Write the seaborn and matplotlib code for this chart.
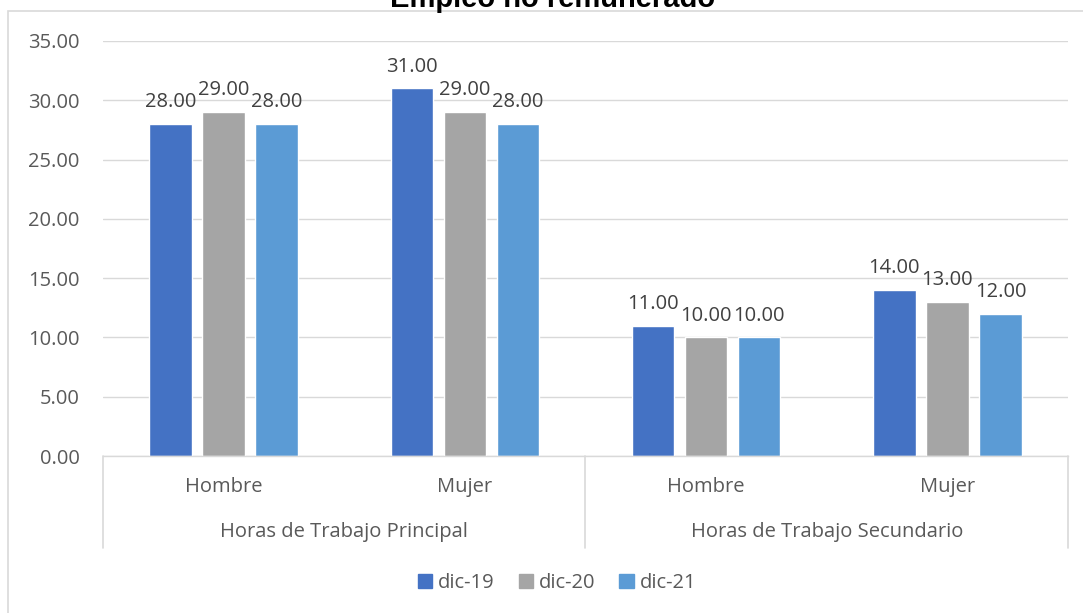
import matplotlib
matplotlib.use("Agg")
import matplotlib.pyplot as plt
import pandas as pd
import seaborn as sns
from matplotlib.lines import Line2D
from matplotlib.patches import Rectangle

# datos del grafico
grupos = ["Horas de Trabajo Principal", "Horas de Trabajo Secundario"]
sexos = ["Hombre", "Mujer"]
series = ["dic-19", "dic-20", "dic-21"]
dic19 = [28.0, 31.0, 11.0, 14.0]
dic20 = [29.0, 29.0, 10.0, 13.0]
dic21 = [28.0, 28.0, 10.0, 12.0]
colores = ["#4472C4", "#A5A5A5", "#5B9BD5"]

cats = [f"{g}|{s}" for g in grupos for s in sexos]
df = pd.DataFrame({
    "cat": cats * 3,
    "serie": [s for s in series for _ in cats],
    "valor": dic19 + dic20 + dic21,
})

sns.set_theme(style="white")
plt.rcParams["font.family"] = ["Open Sans", "DejaVu Sans"]
FS = 14.5

W, H = 1083, 613
fig = plt.figure(figsize=(W / 100, H / 100), dpi=100)
ax = fig.add_axes([103 / W, 1 - 456 / H, (1068 - 103) / W, (456 - 41) / H])

sns.barplot(data=df, x="cat", y="valor", hue="serie", order=cats,
            hue_order=series, palette=colores, width=0.66, gap=0.2,
            saturation=1, ax=ax, legend=False)

for cont in ax.containers:
    ax.bar_label(cont, fmt="%.2f", padding=8.5, fontsize=FS, color="#404040")

ax.set_ylim(0, 35)
ax.set_yticks(range(0, 36, 5))
ax.set_yticklabels([f"{v:.2f}" for v in range(0, 36, 5)], fontsize=FS, color="#595959")
ax.yaxis.grid(True, color="#D9D9D9", linewidth=1)
ax.set_axisbelow(True)
ax.tick_params(axis="y", length=0, pad=17)
ax.set_xticks([])
ax.set_xlabel("")
ax.set_ylabel("")
ax.set_xlim(-0.5, 3.5)
for side in ["top", "right", "left"]:
    ax.spines[side].set_visible(False)
ax.spines["bottom"].set_color("#D9D9D9")
ax.spines["bottom"].set_linewidth(1)

# ejes de categorias jerarquicas
for i, c in enumerate(cats):
    x = (103 + (1068 - 103) * (i + 0.5) / 4) / W
    fig.text(x, 1 - 487 / H, c.split("|")[1], ha="center", va="center",
             fontsize=FS, color="#595959")
for j, g in enumerate(grupos):
    x = (103 + (1068 - 103) * (j + 0.5) / 2) / W
    fig.text(x, 1 - 532 / H, g, ha="center", va="center",
             fontsize=FS, color="#595959")
for xp in [103, 585, 1068]:
    fig.add_artist(Line2D([xp / W, xp / W], [1 - 456 / H, 1 - 548 / H],
                          color="#D9D9D9", linewidth=1.2))

# borde del area del grafico
fig.add_artist(Rectangle((8 / W, -0.05), 1.1, 1 - 11 / H + 0.05,
                         fill=False, edgecolor="#D9D9D9", linewidth=1.2))

# titulo (recortado arriba, como en la imagen original)
fig.text(553 / W, 1 - 7 / H, "Empleo no remunerado", ha="center",
         va="baseline", fontsize=21, fontweight="bold", color="#000000",
         family=["Liberation Sans", "DejaVu Sans"])

handles = [Rectangle((0, 0), 1, 1, color=c) for c in colores]
fig.legend(handles, series, loc="center", bbox_to_anchor=(557 / W, 1 - 583 / H),
           ncol=3, frameon=False, fontsize=FS, handlelength=0.7,
           handleheight=0.7, handletextpad=0.3, columnspacing=1.2,
           labelcolor="#595959")

fig.savefig("out.png", dpi=100)
